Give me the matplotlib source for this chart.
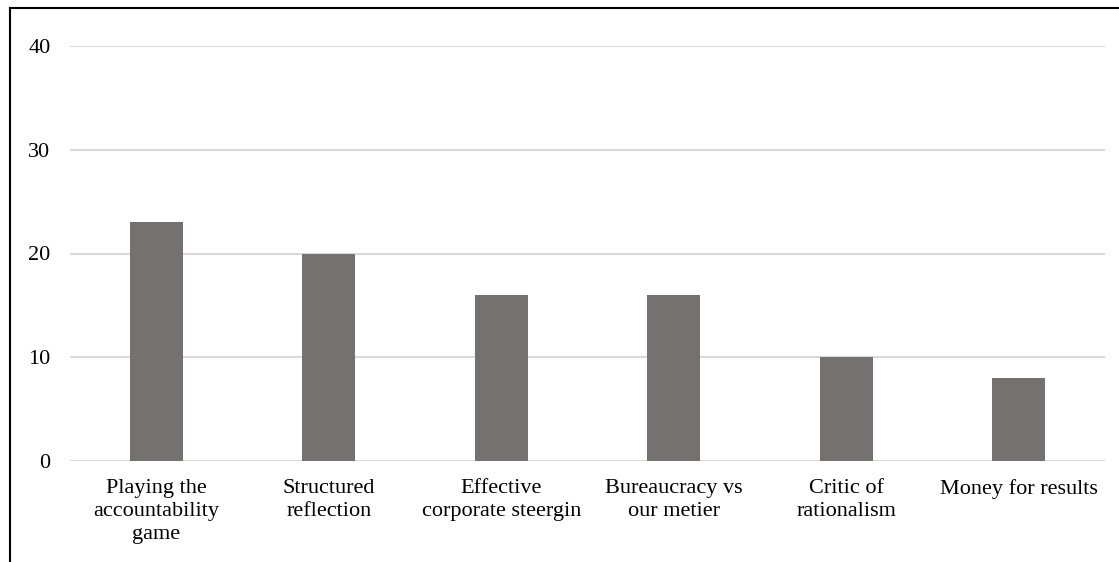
import matplotlib.pyplot as plt
from matplotlib.lines import Line2D

categories = ["Playing the\naccountability\ngame", "Structured\nreflection",
              "Effective\ncorporate steergin", "Bureaucracy vs\nour metier",
              "Critic of\nrationalism", "Money for results"]
counts = [23, 20, 16, 16, 10, 8]
yticks = [0, 10, 20, 30, 40]

plt.rcParams['font.family'] = 'Liberation Serif'

W, H = 1119, 562
fig = plt.figure(figsize=(W / 100, H / 100), dpi=100)
ax = fig.add_axes([70 / W, 1 - 461 / H, (1105 - 70) / W, (461 - 46) / H])

x = range(len(categories))
ax.bar(x, counts, width=0.31, color='#767171', zorder=3)

ax.set_xlim(-0.5, len(categories) - 0.5)
ax.set_ylim(0, 40)
ax.set_yticks(yticks)
ax.set_xticks(list(x))
ax.set_xticklabels(categories, fontsize=16, linespacing=1.3)
ax.tick_params(axis='y', labelsize=16, length=0, pad=14)
ax.tick_params(axis='x', length=0, pad=13)
ax.grid(axis='y', color='#d9d9d9', linewidth=1.5, zorder=0)
for s in ax.spines.values():
    s.set_visible(False)

# outer frame: top and left edges only
fig.add_artist(Line2D([10 / W, 1], [1 - 8 / H, 1 - 8 / H], color='black', linewidth=1.5))
fig.add_artist(Line2D([10 / W, 10 / W], [0, 1 - 8 / H], color='black', linewidth=1.5))

fig.savefig('out.png', dpi=100)
